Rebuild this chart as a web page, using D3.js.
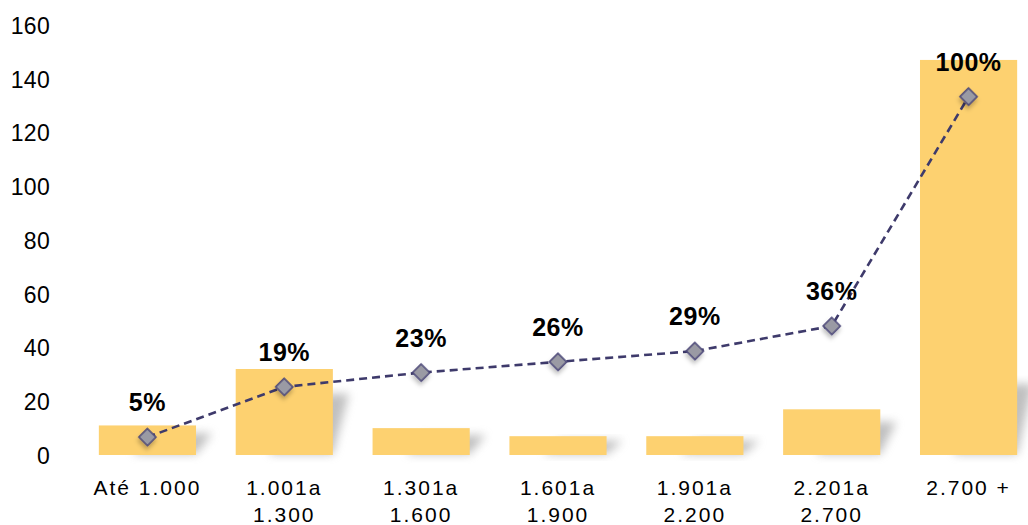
<!DOCTYPE html>
<html>
<head>
<meta charset="utf-8">
<script src="https://cdn.jsdelivr.net/npm/d3@7/dist/d3.min.js"></script>
<style>
  html, body { margin: 0; padding: 0; background: #ffffff; }
  svg { display: block; }
  text { font-family: "Liberation Sans", Arial, sans-serif; }
</style>
</head>
<body>
<svg id="chart" width="1028" height="525"></svg>
<script>
// Income brackets (first and second label line)
const categories = ["Até 1.000", "1.001 a 1.300", "1.301 a 1.600", "1.601 a 1.900", "1.901 a 2.200", "2.201 a 2.700", "2.700 +"];
const labelLines = [["Até 1.000"], ["1.001a", "1.300"], ["1.301a", "1.600"], ["1.601a", "1.900"], ["1.901a", "2.200"], ["2.201a", "2.700"], ["2.700 +"]];
// Count per bracket (bars, left axis)
const counts = [11, 32, 10, 7, 7, 17, 147];
// Cumulative share per bracket (line, secondary 0–120% scale)
const cumulativePct = [5, 19, 23, 26, 29, 36, 100];
// Left axis ticks
const yTicks = [0, 20, 40, 60, 80, 100, 120, 140, 160];

const svg = d3.select("#chart");

const x = d3.scaleBand()
  .domain(categories)
  .range([79, 1037])
  .paddingInner(0.29)
  .paddingOuter(0.145);

const y = d3.scaleLinear().domain([0, 160]).range([455, 25]);
const y2 = d3.scaleLinear().domain([0, 120]).range([455, 25]);

const defs = svg.append("defs");
defs.append("filter").attr("id", "barShadow")
  .attr("x", "-50%").attr("y", "-50%").attr("width", "200%").attr("height", "200%")
  .append("feGaussianBlur").attr("stdDeviation", 5);

const ms = defs.append("filter").attr("id", "markShadow")
  .attr("x", "-100%").attr("y", "-100%").attr("width", "300%").attr("height", "300%");
ms.append("feDropShadow").attr("dx", 2).attr("dy", 3).attr("stdDeviation", 2)
  .attr("flood-color", "#000").attr("flood-opacity", 0.25);

// Left axis tick labels (no axis line)
const yAxis = d3.axisLeft(y).tickValues(yTicks).tickSize(0).tickPadding(0);
const gy = svg.append("g").attr("transform", "translate(50,0)").call(yAxis);
gy.select(".domain").remove();
gy.selectAll("text")
  .attr("font-size", 23)
  .attr("fill", "#000")
  .attr("letter-spacing", 0.3)
  .attr("dy", "0.36em")
  .style("font-family", "'Liberation Sans', Arial, sans-serif");

// Soft shadows cast to the right of each bar
const data = categories.map((c, i) => ({ c, v: counts[i], p: cumulativePct[i], lines: labelLines[i] }));
svg.append("g").selectAll("path")
  .data(data).join("path")
  .attr("d", d => {
    const x0 = x(d.c) + x.bandwidth() * 0.35, x1 = x(d.c) + x.bandwidth();
    const base = y(0) - 1;
    const hs = Math.min((y(0) - y(d.v)) * 0.7, 70);
    const sk = 16;
    return `M${x0},${base}L${x1},${base}L${x1 + sk},${base - hs}L${x0 + sk},${base - hs}Z`;
  })
  .attr("fill", "#8c8c8c")
  .attr("opacity", 0.55)
  .attr("filter", "url(#barShadow)");

// Bars
svg.append("g").selectAll("rect")
  .data(data).join("rect")
  .attr("x", d => x(d.c))
  .attr("y", d => y(d.v))
  .attr("width", x.bandwidth())
  .attr("height", d => y(0) - y(d.v))
  .attr("fill", "#FDD170");

// Cumulative line
const cx = d => x(d.c) + x.bandwidth() / 2;
const line = d3.line().x(cx).y(d => y2(d.p));
svg.append("path")
  .datum(data)
  .attr("d", line)
  .attr("fill", "none")
  .attr("stroke", "#3E3A6B")
  .attr("stroke-width", 2.6)
  .attr("stroke-dasharray", "8,5");

// Diamond markers
const sym = d3.symbol().type(d3.symbolSquare).size(150);
svg.append("g").selectAll("path")
  .data(data).join("path")
  .attr("d", sym)
  .attr("transform", d => `translate(${cx(d)},${y2(d.p)}) rotate(45)`)
  .attr("fill", "#9A9AA4")
  .attr("stroke", "#4A4677")
  .attr("stroke-width", 1.5)
  .attr("filter", "url(#markShadow)");

// Percentage labels
svg.append("g").selectAll("text")
  .data(data).join("text")
  .attr("x", cx)
  .attr("y", d => y2(d.p) - 26)
  .attr("text-anchor", "middle")
  .attr("font-size", 25)
  .attr("font-weight", "bold")
  .attr("letter-spacing", 0.5)
  .attr("fill", "#000")
  .text(d => d.p + "%");

// Category labels (two lines)
const cl = svg.append("g").selectAll("text")
  .data(data).join("text")
  .attr("text-anchor", "middle")
  .attr("font-size", 21)
  .attr("letter-spacing", 2)
  .attr("fill", "#000");
cl.selectAll("tspan")
  .data(d => d.lines.map((t, k) => ({ t, k, xc: cx(d) })))
  .join("tspan")
  .attr("x", t => t.xc)
  .attr("y", t => 495 + t.k * 27)
  .text(t => t.t);
</script>
</body>
</html>
